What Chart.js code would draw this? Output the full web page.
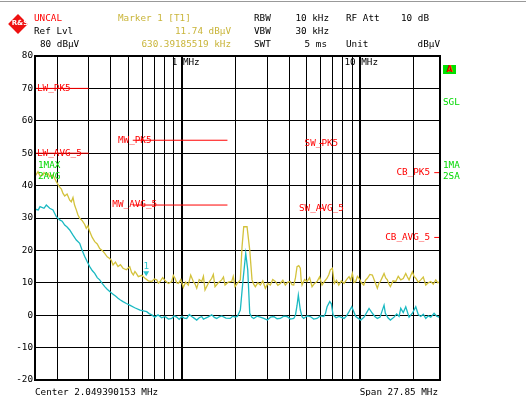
<!DOCTYPE html>
<html>
<head>
<meta charset="utf-8">
<script src="https://cdn.jsdelivr.net/npm/chart.js@4.4.0/dist/chart.umd.min.js"></script>
<style>
  html, body { margin: 0; padding: 0; background: #fff; }
  #wrap { position: relative; width: 526px; height: 396px; overflow: hidden;
          font-family: "DejaVu Sans Mono", monospace; font-size: 9.3px; }
  #wrap canvas { position: absolute; left: 0; top: 0; }
  .t { position: absolute; white-space: pre; line-height: 10px; }
  .red { color: #ff0000; }
  .yel { color: #c9b53a; }
  .grn { color: #00d800; }
  #topline { position: absolute; left: 0; top: 1px; width: 526px; height: 1px; background: #999; }
  #logo { position: absolute; left: 11px; top: 17px; width: 14px; height: 14px; background: #ee1111;
          transform: rotate(45deg); }
  #logo span { position: absolute; left: 0; top: 2px; width: 14px; text-align: center; color: #fff;
               font: bold 7px "DejaVu Sans", sans-serif; transform: rotate(-45deg); }
  #abox { position: absolute; left: 443px; top: 65px; width: 13px; height: 9px; background: #00e000;
          color: #ff0000; font: bold 8px "DejaVu Sans", sans-serif; line-height: 9px; text-align: center; }
</style>
</head>
<body>
<div id="wrap">
  <canvas id="chart" width="526" height="396"></canvas>
  <div id="topline"></div>
  <div id="logo"><span>R&amp;S</span></div>

  <div class="t red" style="left:34px;top:13px">UNCAL</div>
  <div class="t" style="left:34px;top:26px">Ref Lvl</div>
  <div class="t" style="left:40px;top:39px">80 dBµV</div>

  <div class="t yel" style="left:118px;top:13px">Marker 1 [T1]</div>
  <div class="t yel" style="right:295px;top:26px">11.74 dBµV</div>
  <div class="t yel" style="right:295px;top:39px">630.39185519 kHz</div>

  <div class="t" style="left:254px;top:13px">RBW</div>
  <div class="t" style="right:197px;top:13px">10 kHz</div>
  <div class="t" style="left:346px;top:13px">RF Att</div>
  <div class="t" style="right:97px;top:13px">10 dB</div>
  <div class="t" style="left:254px;top:26px">VBW</div>
  <div class="t" style="right:197px;top:26px">30 kHz</div>
  <div class="t" style="left:254px;top:39px">SWT</div>
  <div class="t" style="right:199px;top:39px">5 ms</div>
  <div class="t" style="left:346px;top:39px">Unit</div>
  <div class="t" style="right:86px;top:39px">dBµV</div>

  <div class="t grn" style="left:38px;top:160px">1MAX</div>
  <div class="t grn" style="left:38px;top:171px">2AVG</div>

  <div id="abox">A</div>
  <div class="t grn" style="left:443px;top:97px">SGL</div>
  <div class="t grn" style="left:443px;top:160px">1MA</div>
  <div class="t grn" style="left:443px;top:171px">2SA</div>

  <div class="t" style="left:35px;top:387px">Center 2.049390153 MHz</div>
  <div class="t" style="right:88px;top:387px">Span 27.85 MHz</div>
</div>

<script>
// Trace 1 (max peak), MHz / dBuV
const maxFreq = [0.150, 0.1559, 0.1600, 0.1663, 0.1685, 0.1736, 0.1774, 0.1814, 0.1892, 0.1975,
  0.2063, 0.2110, 0.2153, 0.2201, 0.2270, 0.2348, 0.2397, 0.2450, 0.2500, 0.2557,
  0.2610, 0.2671, 0.2760, 0.2850, 0.2909, 0.2970, 0.3040, 0.3140, 0.3244, 0.3350,
  0.3459, 0.3570, 0.3690, 0.3810, 0.3936, 0.4020, 0.4108, 0.4240, 0.4381, 0.4520,
  0.4673, 0.4880, 0.5097, 0.5220, 0.5339, 0.5450, 0.5550, 0.5695, 0.5950, 0.6210,
  0.6480, 0.6770, 0.7000, 0.7221, 0.7380, 0.7536, 0.7800, 0.8038, 0.8400, 0.8764,
  0.8950, 0.9146, 0.9340, 0.9544, 0.9860, 1.0181, 1.0500, 1.0860, 1.1200, 1.1585,
  1.1850, 1.2105, 1.2500, 1.2911, 1.3200, 1.3474, 1.4050, 1.4693, 1.5000, 1.5333,
  1.6000, 1.6717, 1.7100, 1.7447, 1.8200, 1.9022, 1.9400, 1.9851, 2.0450, 2.1257,
  2.1729, 2.2211, 2.3180, 2.4002, 2.4725, 2.5250, 2.5802, 2.6650, 2.7525, 2.8400,
  2.9357, 3.0300, 3.1317, 3.2300, 3.3407, 3.4500, 3.5630, 3.6800, 3.8003, 3.9250,
  4.0539, 4.1400, 4.2359, 4.3300, 4.4204, 4.5200, 4.6127, 4.6600, 4.7151, 4.8700,
  5.0306, 5.2000, 5.3662, 5.5400, 5.7235, 5.9100, 6.1059, 6.3000, 6.5133, 6.6600,
  6.7967, 6.9744, 7.1567, 7.3600, 7.5753, 7.8400, 8.1114, 8.3800, 8.6526, 8.8400,
  9.0290, 9.2300, 9.4343, 9.6400, 9.8454, 10.150, 10.461, 10.700, 10.959, 11.320,
  11.690, 12.070, 12.470, 12.710, 12.962, 13.270, 13.597, 13.890, 14.189, 14.470,
  14.750, 15.270, 15.815, 16.330, 16.870, 17.420, 17.996, 18.380, 18.779, 19.180,
  19.597, 20.030, 20.477, 21.150, 21.838, 22.560, 23.301, 24.070, 24.860, 25.680,
  26.519, 27.250, 28.0]
const maxLevel = [42.8, 44.3, 43.0, 43.3, 44.0, 43.3, 43.8, 42.8, 43.3, 41.2,
  39.5, 38.9, 37.6, 36.8, 37.4, 35.5, 35.0, 36.3, 34.0, 32.5,
  31.0, 29.9, 29.2, 28.0, 26.8, 27.6, 25.8, 24.0, 22.7, 22.0,
  20.6, 20.0, 19.1, 18.0, 17.5, 16.9, 15.5, 16.4, 15.0, 15.6,
  14.5, 14.0, 15.0, 13.2, 12.4, 13.5, 12.9, 11.9, 12.3, 11.4,
  10.6, 10.4, 11.2, 10.9, 9.9, 10.4, 11.6, 10.7, 9.8, 10.4,
  12.3, 11.4, 10.0, 9.8, 11.0, 8.6, 10.2, 9.3, 12.4, 10.4,
  9.6, 8.3, 11.0, 10.4, 12.0, 7.8, 9.8, 11.4, 12.6, 8.8,
  10.0, 10.9, 11.8, 9.3, 10.2, 10.4, 12.0, 8.8, 9.8, 10.9,
  21.1, 27.3, 27.3, 20.1, 10.9, 9.6, 8.8, 10.0, 9.3, 10.6,
  8.3, 9.8, 9.3, 11.0, 10.4, 9.2, 9.8, 10.8, 9.3, 10.2,
  10.4, 9.4, 9.3, 11.5, 15.0, 15.3, 14.5, 11.0, 9.3, 11.0,
  10.4, 11.6, 8.8, 9.8, 10.4, 11.8, 9.3, 10.4, 11.4, 12.5,
  14.0, 14.5, 9.8, 10.8, 9.3, 10.6, 9.8, 11.0, 11.9, 10.8,
  12.9, 10.1, 10.4, 12.0, 11.4, 10.0, 9.3, 10.8, 11.4, 12.6,
  12.4, 10.4, 8.3, 9.8, 10.4, 11.6, 12.9, 11.5, 10.9, 9.6,
  8.8, 10.6, 10.4, 12.0, 10.9, 11.3, 12.9, 11.8, 10.9, 12.2,
  13.4, 12.0, 11.4, 10.2, 10.9, 11.8, 9.3, 10.0, 10.4, 9.6,
  10.9, 10.0, 10.4]

// Trace 2 (average)
const avgFreq = [0.150, 0.1565, 0.1600, 0.1685, 0.1736, 0.1814, 0.1892, 0.1975, 0.2063, 0.2130,
  0.2201, 0.2270, 0.2348, 0.2450, 0.2557, 0.2671, 0.2760, 0.2850, 0.2950, 0.3040,
  0.3140, 0.3244, 0.3350, 0.3459, 0.3570, 0.3690, 0.3810, 0.3936, 0.4108, 0.4240,
  0.4381, 0.4520, 0.4673, 0.4880, 0.5097, 0.5436, 0.5822, 0.6348, 0.6550, 0.6770,
  0.7050, 0.7343, 0.7700, 0.8038, 0.8400, 0.8764, 0.9050, 0.9349, 0.9650, 0.9973,
  1.0300, 1.0638, 1.1000, 1.1348, 1.1700, 1.2105, 1.2500, 1.2911, 1.3200, 1.3474,
  1.4050, 1.4693, 1.5200, 1.5673, 1.6200, 1.6717, 1.7650, 1.8681, 1.9250, 1.9851,
  2.0450, 2.1257, 2.2011, 2.2793, 2.3390, 2.4002, 2.4600, 2.5274, 2.6350, 2.7525,
  2.8800, 3.0125, 3.1400, 3.2724, 3.4150, 3.5630, 3.7200, 3.8847, 4.0550, 4.2359,
  4.3300, 4.4204, 4.4952, 4.6127, 4.7200, 4.8206, 5.0300, 5.2497, 5.4800, 5.7235,
  5.9800, 6.2413, 6.3800, 6.5133, 6.7442, 6.8849, 7.0376, 7.3200, 7.6047, 8.1114,
  8.3800, 8.6526, 8.9594, 9.4343, 10.064, 10.502, 11.202, 11.690, 12.070, 12.470,
  12.912, 13.597, 13.826, 14.300, 14.750, 15.471, 16.000, 16.504, 16.870, 17.420,
  17.996, 18.779, 19.600, 20.477, 21.150, 21.838, 22.560, 23.301, 24.070, 24.860,
  25.943, 26.800, 27.673, 28.0]
const avgLevel = [32.7, 32.5, 33.5, 33.0, 34.0, 33.0, 32.5, 30.4, 29.4, 29.0,
  27.8, 27.2, 26.3, 24.7, 23.2, 22.2, 20.0, 18.1, 16.4, 15.0,
  13.8, 12.9, 11.6, 10.9, 9.8, 8.8, 8.0, 7.3, 6.5, 5.9,
  5.2, 4.7, 4.2, 3.6, 3.1, 2.3, 1.6, 1.1, 0.5, 0.1,
  -0.6, 0.1, -0.8, -0.4, -1.2, -1.0, -0.2, -0.6, -1.3, -0.4,
  -0.9, -1.0, 0.2, -0.4, -0.9, -1.5, -0.8, -0.4, -1.2, -1.0,
  -0.5, 0.1, -0.7, -1.0, -0.5, -0.2, -0.9, -1.0, -0.3, -0.6,
  -0.4, 1.6, 10.9, 19.1, 14.0, 0.6, -0.6, -1.0, -0.3, -0.6,
  -1.0, -1.5, -0.6, -0.4, -1.1, -1.0, -0.3, -0.4, -1.2, -1.0,
  0.0, 3.0, 6.2, 1.6, -0.5, -1.0, -0.2, -0.4, -1.2, -1.0,
  -0.2, -0.4, 0.5, 2.6, 4.2, 3.5, 0.1, -0.8, -0.4, -1.0,
  -0.2, 1.1, 2.6, -0.4, -1.5, -0.6, 2.1, 0.6, -0.4, -1.0,
  -0.6, 3.1, 0.6, -0.8, -1.5, -0.6, 0.4, -0.4, 2.1, 0.8,
  2.6, -0.6, 0.6, 2.6, 0.2, -0.4, 0.3, -1.0, -0.2, -0.6,
  0.6, -0.3, -0.6, -0.2]

// Limit lines (CISPR 25 class 5)
const limitNames = ["LW_PK5", "LW_AVG_5", "MW_PK5", "MW_AVG_5", "SW_PK5", "SW_AVG_5", "CB_PK5", "CB_AVG_5"]
const limitStart = [0.15, 0.15, 0.53, 0.53, 5.9, 5.9, 26, 26]
const limitStop = [0.30, 0.30, 1.8, 1.8, 6.2, 6.2, 28, 28]
const limitLevel = [70, 50, 54, 34, 53, 33, 44, 24]

// Axes
const freqMin = 0.15
const freqMax = 28
const levelMin = -20
const levelMax = 80
const gridMHz = [0.2, 0.3, 0.4, 0.5, 0.6, 0.7, 0.8, 0.9, 1, 2, 3, 4, 5, 6, 7, 8, 9, 10, 20]
const decadeMHz = [1, 10]

const markerFreq = 0.63039185519
const markerLevel = 11.74

const FONT = '9.3px "DejaVu Sans Mono", monospace'

const toPoints = (xs, ys) => xs.map((f, i) => ({ x: f, y: ys[i] }))

const limitSets = limitNames.map((name, i) => ({
  label: name,
  data: [{ x: limitStart[i], y: limitLevel[i] }, { x: limitStop[i], y: limitLevel[i] }],
  borderColor: "#ff0000",
  borderWidth: 1,
  pointRadius: 0,
}))

// labels, frame, marker drawn on top of the plot
const overlay = {
  id: "overlay",
  afterDatasetsDraw(chart) {
    const { ctx, chartArea: a, scales } = chart
    const xs = scales.x
    const ys = scales.y
    ctx.save()
    ctx.font = FONT
    ctx.textBaseline = "middle"

    // limit line names
    ctx.fillStyle = "#ff0000"
    limitNames.forEach((name, i) => {
      const w = ctx.measureText(name).width
      let left = xs.getPixelForValue(limitStart[i]) - w / 2 + 2
      left = Math.max(a.left + 2, Math.min(left, a.right - 10 - w))
      ctx.fillText(name, left, ys.getPixelForValue(limitLevel[i]))
    })

    // decade labels
    ctx.fillStyle = "#000"
    decadeMHz.forEach((v) => {
      const px = xs.getPixelForValue(v)
      const lead = ctx.measureText(v + " ").width
      ctx.fillText(v + " MHz", px - lead + 1, a.top + 7)
    })

    // marker 1
    const mx = xs.getPixelForValue(markerFreq)
    const my = ys.getPixelForValue(markerLevel)
    ctx.fillStyle = "#2cc6cf"
    ctx.beginPath()
    ctx.moveTo(mx - 3, my - 6)
    ctx.lineTo(mx + 3, my - 6)
    ctx.lineTo(mx, my - 1)
    ctx.closePath()
    ctx.fill()
    ctx.textAlign = "center"
    ctx.fillText("1", mx, my - 11)

    // frame
    ctx.strokeStyle = "#000"
    ctx.lineWidth = 2
    ctx.strokeRect(a.left, a.top, a.right - a.left, a.bottom - a.top)
    ctx.restore()
  },
}

new Chart(document.getElementById("chart"), {
  type: "line",
  data: {
    datasets: [
      ...limitSets,
      {
        label: "1MAX",
        data: toPoints(maxFreq, maxLevel),
        borderColor: "#d3c23c",
        borderWidth: 1.3,
        pointRadius: 0,
      },
      {
        label: "2AVG",
        data: toPoints(avgFreq, avgLevel),
        borderColor: "#1ab9c2",
        borderWidth: 1.3,
        pointRadius: 0,
      },
    ],
  },
  options: {
    responsive: false,
    animation: false,
    events: [],
    layout: { padding: { top: 56, right: 86, bottom: 16, left: 0 } },
    plugins: { legend: { display: false }, tooltip: { enabled: false } },
    scales: {
      x: {
        type: "logarithmic",
        min: freqMin,
        max: freqMax,
        afterBuildTicks: (s) => { s.ticks = gridMHz.map((v) => ({ value: v })) },
        afterFit: (s) => { s.height = 0 },
        ticks: { display: false },
        border: { display: false },
        grid: {
          color: "#000",
          drawTicks: false,
          lineWidth: (c) => (c.tick && decadeMHz.includes(c.tick.value) ? 2 : 1),
        },
      },
      y: {
        min: levelMin,
        max: levelMax,
        afterFit: (s) => { s.width = 35 },
        ticks: {
          stepSize: 10,
          padding: 2,
          color: "#000",
          font: { family: "DejaVu Sans Mono", size: 9.3 },
        },
        border: { display: false },
        grid: { color: "#000", drawTicks: false },
      },
    },
  },
  plugins: [overlay],
})
</script>
</body>
</html>
